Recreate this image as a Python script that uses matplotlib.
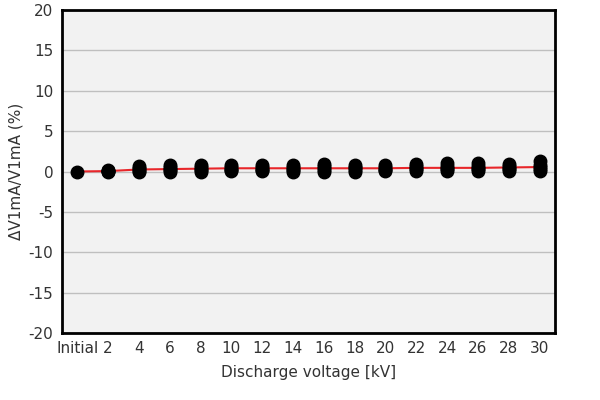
import numpy as np
import matplotlib.pyplot as plt

# categories on the x axis
labels = ['Initial', '2', '4', '6', '8', '10', '12', '14', '16', '18',
          '20', '22', '24', '26', '28', '30']

# measured dV1mA/V1mA (%) for each sample, one row per category
samples = [
    [0.0],
    [0.0, 0.05, 0.1, 0.1, 0.15],
    [-0.05, 0.1, 0.25, 0.45, 0.7],
    [-0.05, 0.15, 0.3, 0.5, 0.75],
    [0.0, 0.2, 0.35, 0.6, 0.85],
    [0.05, 0.2, 0.35, 0.6, 0.85],
    [0.05, 0.2, 0.35, 0.6, 0.85],
    [0.0, 0.2, 0.35, 0.6, 0.85],
    [0.0, 0.2, 0.4, 0.65, 0.9],
    [0.0, 0.2, 0.4, 0.6, 0.85],
    [0.05, 0.2, 0.35, 0.55, 0.75],
    [0.05, 0.25, 0.45, 0.7, 0.95],
    [0.05, 0.25, 0.45, 0.7, 1.0],
    [0.05, 0.25, 0.45, 0.7, 1.0],
    [0.05, 0.25, 0.45, 0.7, 0.95],
    [0.05, 0.3, 0.5, 0.85, 1.3],
]

# average line
mean_line = [0.0, 0.05, 0.25, 0.3, 0.35, 0.4, 0.4, 0.4, 0.4, 0.4,
             0.4, 0.45, 0.45, 0.45, 0.5, 0.55]

plt.rcParams['font.family'] = 'DejaVu Sans'
plt.rcParams['font.size'] = 11
plt.rcParams['axes.unicode_minus'] = False

fig = plt.figure(figsize=(6, 4), dpi=100)
ax = fig.add_axes([0.103, 0.1675, 0.822, 0.8075])
ax.set_facecolor('#f2f2f2')

x = np.arange(len(labels))
for i, vals in enumerate(samples):
    ax.plot([x[i]] * len(vals), vals, 'o', color='black', markersize=9,
            zorder=3)
ax.plot(x, mean_line, color='#e8262a', linewidth=1.5, zorder=2.5)

ax.set_xlim(-0.5, len(labels) - 0.5)
ax.set_ylim(-20, 20)
ax.set_yticks(np.arange(-20, 21, 5))
ax.set_xticks(x)
ax.set_xticklabels(labels)
ax.tick_params(length=0, pad=6, labelcolor='#333333')
ax.grid(True, axis='y', color='#bfbfbf', linewidth=1)
ax.set_axisbelow(True)
for s in ax.spines.values():
    s.set_linewidth(2)
    s.set_color('black')

ax.set_xlabel('Discharge voltage [kV]', labelpad=6, color='#333333')
ax.set_ylabel('ΔV1mA/V1mA (%)', color='#333333')

fig.savefig('out.png', dpi=100)
